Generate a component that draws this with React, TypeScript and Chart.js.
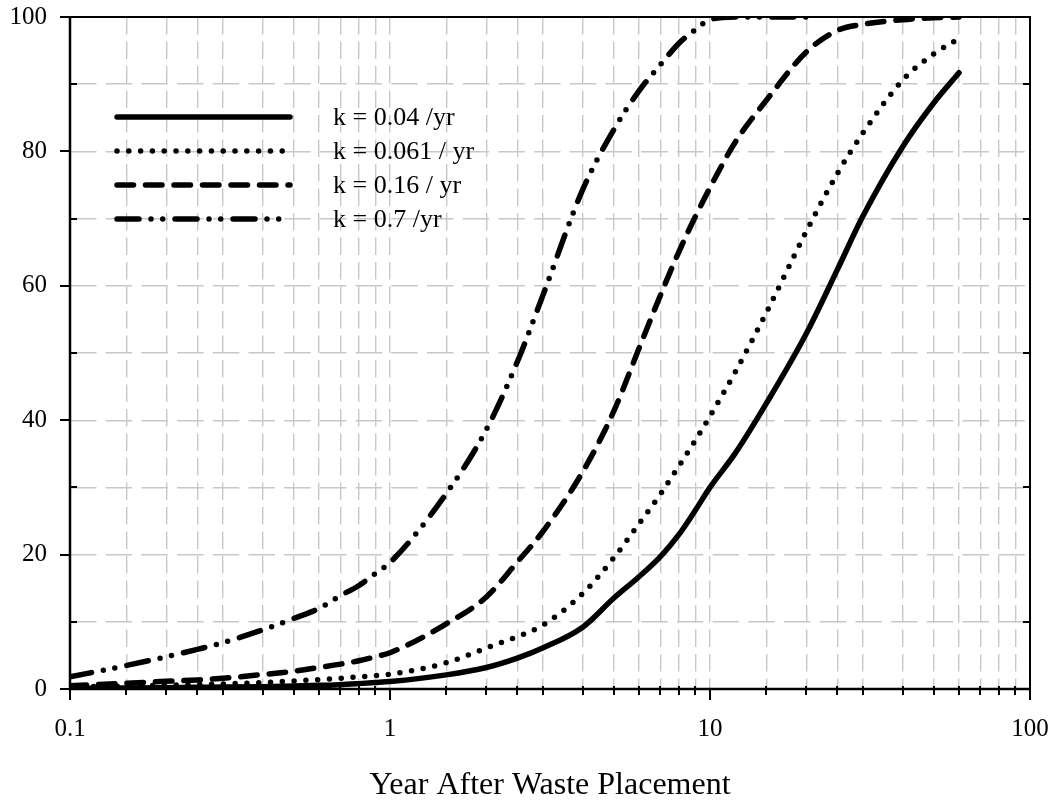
import React, { useEffect, useRef } from 'react';
import { Chart, registerables } from 'chart.js';

Chart.register(...registerables);

// ---- data ----
const years = [0.1, 0.15, 0.2, 0.25, 0.3, 0.4, 0.5, 0.6, 0.7, 0.8, 0.9, 1, 1.5, 2, 2.5, 3, 4, 5, 6, 7, 8, 9, 10, 12, 15, 20, 25, 30, 40, 50, 60];

const k004 = [0.1, 0.15, 0.2, 0.25, 0.28, 0.35, 0.45, 0.55, 0.65, 0.8, 0.95, 1.1, 2.1, 3.2, 4.6, 6.1, 9.2, 13.5, 16.7, 19.7, 23.0, 26.6, 30.0, 35.1, 42.5, 52.9, 62.4, 70.3, 80.7, 87.2, 91.7];
const k0061 = [0.3, 0.45, 0.55, 0.65, 0.75, 0.95, 1.2, 1.4, 1.6, 1.8, 2.0, 2.2, 3.9, 6.1, 7.8, 9.5, 14.2, 19.5, 24.6, 29.0, 33.2, 37.0, 40.6, 47.2, 56.0, 68.1, 76.7, 82.7, 90.6, 94.5, 96.8];
const k016 = [0.5, 0.85, 1.15, 1.35, 1.6, 2.15, 2.65, 3.2, 3.7, 4.2, 4.8, 5.4, 9.7, 13.7, 18.9, 23.4, 32.3, 41.3, 50.7, 58.6, 65.1, 70.3, 74.6, 81.4, 87.6, 94.8, 98.0, 98.9, 99.6, 99.9, 100];
const k07: (number | null)[] = [1.8, 3.5, 4.8, 5.9, 6.9, 8.8, 10.5, 12.0, 13.9, 15.4, 17.2, 18.8, 29.1, 38.6, 48.7, 58.5, 74.3, 83.2, 89.0, 92.9, 96.1, 98.1, 99.6, 100, 100, 100, null, null, null, null, null];

const seriesLabels = ['k = 0.04 /yr', 'k = 0.061 / yr', 'k = 0.16 / yr', 'k = 0.7 /yr'];

const xTickValues = [
  0.1, 0.15, 0.2, 0.25, 0.3, 0.4, 0.5, 0.6, 0.7, 0.8, 0.9,
  1, 1.5, 2, 2.5, 3, 4, 5, 6, 7, 8, 9,
  10, 15, 20, 25, 30, 40, 50, 60, 70, 80, 90,
  100,
];
const yMajorTicks = [0, 20, 40, 60, 80, 100];

const xTitle = 'Year After Waste Placement';

const FONT = "'Liberation Serif', 'Times New Roman', serif";
const GRID = '#c8c8c8';

const isDecade = (v: number) => Math.abs(Math.log10(v) - Math.round(Math.log10(v))) < 1e-9;

function toPoints(vals: (number | null)[]) {
  return years
    .map((t, i) => ({ x: t, y: vals[i] }))
    .filter((p) => p.y !== null) as { x: number; y: number }[];
}

const frameAndLegend = {
  id: 'frameAndLegend',
  afterDatasetsDraw(chart: any) {
    const { ctx, chartArea, scales } = chart;
    const { left, right, top, bottom } = chartArea;
    const xs = scales.x;
    const ys = scales.y;
    ctx.save();
    ctx.strokeStyle = '#000';
    ctx.lineCap = 'butt';
    ctx.setLineDash([]);

    // x ticks
    ctx.lineWidth = 2;
    xTickValues.forEach((v) => {
      const px = Math.round(xs.getPixelForValue(v));
      ctx.beginPath();
      if (isDecade(v)) {
        ctx.moveTo(px, bottom);
        ctx.lineTo(px, bottom + 11);
      } else {
        ctx.moveTo(px, bottom - 3);
        ctx.lineTo(px, bottom + 6);
      }
      ctx.stroke();
    });

    // y ticks
    for (let v = 0; v <= 100; v += 10) {
      const py = Math.round(ys.getPixelForValue(v));
      ctx.beginPath();
      if (yMajorTicks.includes(v)) {
        ctx.moveTo(left - 10, py);
        ctx.lineTo(left, py);
      } else {
        ctx.moveTo(left, py);
        ctx.lineTo(left + 7, py);
        ctx.moveTo(right - 7, py);
        ctx.lineTo(right, py);
      }
      ctx.stroke();
    }

    // frame
    ctx.lineWidth = 2;
    ctx.strokeRect(left, top, right - left, bottom - top);
    ctx.lineWidth = 2.5;
    ctx.beginPath();
    ctx.moveTo(left, top);
    ctx.lineTo(left, bottom);
    ctx.lineTo(right, bottom);
    ctx.stroke();

    // legend
    chart.data.datasets.forEach((ds: any, i: number) => {
      const y = top + 100 + i * 34;
      ctx.save();
      ctx.strokeStyle = ds.borderColor;
      ctx.lineWidth = ds.borderWidth;
      ctx.lineCap = 'round';
      ctx.setLineDash(ds.borderDash || []);
      ctx.beginPath();
      ctx.moveTo(left + 47, y);
      ctx.lineTo(left + 220, y);
      ctx.stroke();
      ctx.restore();
      ctx.fillStyle = '#000';
      ctx.font = `26px ${FONT}`;
      ctx.textBaseline = 'middle';
      ctx.textAlign = 'left';
      ctx.fillText(ds.label, left + 263, y + 1);
    });
    ctx.restore();
  },
};

export default function App() {
  const canvasRef = useRef<HTMLCanvasElement | null>(null);

  useEffect(() => {
    document.body.style.margin = '0';
    const canvas = canvasRef.current;
    if (!canvas) return;
    const common = {
      borderColor: '#000',
      backgroundColor: '#000',
      borderWidth: 5.5,
      borderCapStyle: 'round',
      borderJoinStyle: 'round',
      pointRadius: 0,
      fill: false,
      cubicInterpolationMode: 'monotone',
    };
    const chart = new Chart(canvas, {
      type: 'line',
      data: {
        datasets: [
          { ...common, label: seriesLabels[0], data: toPoints(k004), borderDash: [] },
          { ...common, label: seriesLabels[1], data: toPoints(k0061), borderDash: [0, 11.8] },
          { ...common, label: seriesLabels[2], data: toPoints(k016), borderDash: [16.5, 12] },
          { ...common, label: seriesLabels[3], data: toPoints(k07), borderDash: [22, 12, 0, 11.7, 0, 12.3] },
        ] as any,
      },
      options: {
        animation: false,
        responsive: false,
        maintainAspectRatio: false,
        layout: { padding: { top: 17, right: 25, left: 0, bottom: 0 } },
        plugins: { legend: { display: false }, tooltip: { enabled: false } },
        scales: {
          x: {
            type: 'logarithmic',
            min: 0.1,
            max: 100,
            afterBuildTicks: (s: any) => {
              s.ticks = xTickValues.map((v) => ({ value: v, major: isDecade(v) }));
            },
            afterFit: (s: any) => {
              s.height = 113;
              s.paddingLeft = 0;
              s.paddingRight = 0;
            },
            ticks: {
              autoSkip: false,
              maxRotation: 0,
              minRotation: 0,
              padding: 25,
              color: '#000',
              font: { family: FONT, size: 25 },
              callback: (v: any) => (isDecade(Number(v)) ? String(Number(v)) : ''),
            },
            grid: { color: GRID, lineWidth: 1.4, drawTicks: false },
            border: { display: false, dash: [17.5, 7] },
            title: {
              display: true,
              text: xTitle,
              color: '#000',
              font: { family: FONT, size: 32, lineHeight: 1 },
              padding: 0,
            },
          },
          y: {
            type: 'linear',
            min: 0,
            max: 100,
            afterFit: (s: any) => {
              s.width = 70;
              s.paddingTop = 0;
              s.paddingBottom = 0;
            },
            ticks: {
              stepSize: 10,
              padding: 23,
              color: '#000',
              font: { family: FONT, size: 25 },
              callback: (v: any) => (yMajorTicks.includes(Number(v)) ? String(v) : ''),
            },
            grid: { color: GRID, lineWidth: 1.4, drawTicks: false },
            border: { display: false, dash: [26.5, 9.2] },
          },
        },
      } as any,
      plugins: [frameAndLegend],
    });
    return () => chart.destroy();
  }, []);

  return (
    <div style={{ width: 1055, height: 802, overflow: 'hidden', background: '#fff' }}>
      <canvas ref={canvasRef} width={1055} height={802} style={{ display: 'block' }} />
    </div>
  );
}
